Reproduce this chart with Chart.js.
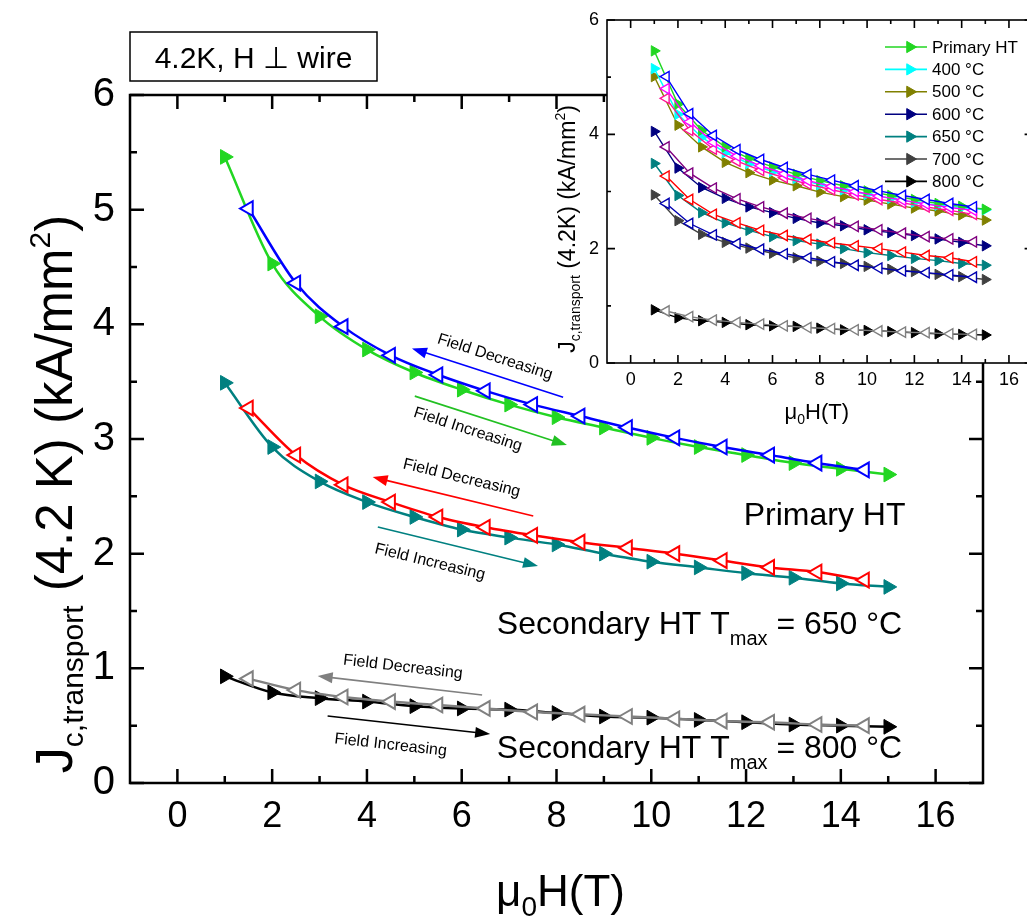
<!DOCTYPE html>
<html><head><meta charset="utf-8">
<script src="https://cdn.jsdelivr.net/npm/chart.js@4.4.1/dist/chart.umd.min.js"></script>
<style>
html,body{margin:0;padding:0;background:#fff;overflow:hidden;width:1027px;height:924px;}
#wrap{position:relative;width:1027px;height:924px;overflow:hidden;}
#main{position:absolute;left:0;top:0;}
#inset{position:absolute;left:520px;top:0;}
</style></head><body>
<div id="wrap">
<canvas id="main" width="1027" height="924"></canvas>
<canvas id="inset" width="520" height="430"></canvas>
</div>
<script>
// ---------------- data ----------------
const fieldUp = [1,2,3,4,5,6,7,8,9,10,11,12,13,14,15];
const fieldDown = [1.5,2.5,3.5,4.5,5.5,6.5,7.5,8.5,9.5,10.5,11.5,12.5,13.5,14.5];

const primaryUp   = [5.46,4.53,4.07,3.78,3.58,3.43,3.30,3.19,3.10,3.01,2.93,2.86,2.79,2.74,2.69];
const primaryDown = [5.01,4.36,3.98,3.73,3.56,3.42,3.30,3.20,3.10,3.01,2.93,2.86,2.79,2.73];
const ht650Up     = [3.49,2.93,2.63,2.45,2.32,2.21,2.14,2.08,2.00,1.93,1.88,1.83,1.79,1.74,1.71];
const ht650Down   = [3.27,2.86,2.60,2.45,2.32,2.23,2.16,2.10,2.05,2.00,1.94,1.88,1.84,1.77];
const ht800Up     = [0.93,0.79,0.74,0.71,0.67,0.65,0.64,0.61,0.58,0.57,0.55,0.53,0.51,0.50,0.49];
const ht800Down   = [0.91,0.81,0.75,0.71,0.68,0.65,0.62,0.60,0.58,0.56,0.54,0.53,0.51,0.50];

const ht400Up     = [5.15,4.35,3.95,3.68,3.49,3.35,3.23,3.12,3.03,2.95,2.88,2.81,2.76,2.72,2.68];
const ht400Down   = [4.80,4.22,3.86,3.62,3.45,3.31,3.19,3.09,3.00,2.92,2.85,2.78,2.72,2.67];
const ht500Up     = [5.01,4.16,3.78,3.51,3.33,3.20,3.10,2.99,2.91,2.85,2.78,2.71,2.66,2.59,2.50];
const ht500Down   = [4.63,4.07,3.74,3.53,3.37,3.24,3.13,3.03,2.94,2.86,2.80,2.73,2.67,2.60];
const ht600Up     = [4.05,3.41,3.07,2.88,2.73,2.63,2.53,2.45,2.40,2.33,2.28,2.23,2.17,2.11,2.05];
const ht600Down   = [3.78,3.32,3.06,2.87,2.73,2.62,2.53,2.46,2.39,2.33,2.27,2.21,2.17,2.12];
const ht700Up     = [2.94,2.49,2.25,2.11,2.01,1.92,1.84,1.78,1.74,1.69,1.64,1.60,1.55,1.51,1.46];
const ht700Down   = [2.79,2.44,2.24,2.09,1.99,1.91,1.84,1.77,1.71,1.66,1.61,1.58,1.54,1.50];

const xTickLabels = [0,2,4,6,8,10,12,14,16];
const xMinorTicks = [1,3,5,7,9,11,13,15];
const yTickLabels = [0,1,2,3,4,5,6];
const yMinorTicks = [0.5,1.5,2.5,3.5,4.5,5.5];
const insetYTickLabels = [0,2,4,6];
const insetYMinorTicks = [1,3,5];

const insetLegendLabels = ['Primary HT','400 \u00B0C','500 \u00B0C','600 \u00B0C','650 \u00B0C','700 \u00B0C','800 \u00B0C'];
const mainCurveLabels = ['Primary HT','Secondary HT T','= 650 \u00B0C','= 800 \u00B0C'];

// ---------------- helpers ----------------
const FONT = '"Liberation Sans", Arial, Helvetica, sans-serif';
const C = {green:'#22d622', blue:'#0000ff', red:'#ff0000', teal:'#008080', gray:'#808080', black:'#000000',
  cyan:'#00ffff', olive:'#808000', navy:'#000080', purple:'#800080', magenta:'#ff00ff', pink:'#ff1493',
  dgray:'#404040', royal:'#0000b0', arrowGreen:'#22c022'};

function pts(xs, ys){ return xs.map((x,i)=>({x:x, y:ys[i]})); }

function ds(label, xs, ys, color, filled, o){
  return {
    label: label, data: pts(xs, ys),
    borderColor: color, backgroundColor: color,
    pointBackgroundColor: filled ? color : '#ffffff',
    pointBorderColor: color,
    pointStyle: 'triangle', pointRotation: filled ? 90 : -90,
    pointRadius: o.r, pointHoverRadius: o.r,
    pointBorderWidth: filled ? 1 : o.pbw,
    borderWidth: o.lw,
    cubicInterpolationMode: o.smooth ? 'monotone' : 'default',
    tension: 0, fill: false, showLine: true, inLegend: o.legend
  };
}

function drawRich(ctx, x, y, parts, align){
  let w = 0;
  parts.forEach(p => { ctx.font = p.s + 'px ' + FONT; w += ctx.measureText(p.t).width; });
  let cx = align === 'center' ? x - w/2 : (align === 'right' ? x - w : x);
  ctx.textAlign = 'left'; ctx.textBaseline = 'alphabetic';
  parts.forEach(p => {
    ctx.font = p.s + 'px ' + FONT;
    ctx.fillText(p.t, cx, y + (p.dy || 0));
    cx += ctx.measureText(p.t).width;
  });
}

function drawFrame(chart, cfg){
  const {ctx, chartArea: a, scales} = chart;
  const xs = scales.x, ys = scales.y;
  ctx.save();
  ctx.strokeStyle = '#000'; ctx.lineWidth = cfg.lw; ctx.lineCap = 'butt';
  ctx.strokeRect(a.left, a.top, a.right - a.left, a.bottom - a.top);
  ctx.beginPath();
  const tickX = (vals, len) => vals.forEach(v => {
    const p = xs.getPixelForValue(v);
    ctx.moveTo(p, a.bottom); ctx.lineTo(p, a.bottom - len);
    ctx.moveTo(p, a.top); ctx.lineTo(p, a.top + len);
  });
  const tickY = (vals, len) => vals.forEach(v => {
    const p = ys.getPixelForValue(v);
    ctx.moveTo(a.left, p); ctx.lineTo(a.left + len, p);
    ctx.moveTo(a.right, p); ctx.lineTo(a.right - len, p);
  });
  tickX(cfg.xMajor, cfg.major); tickX(cfg.xMinor, cfg.minor);
  tickY(cfg.yMajor, cfg.major); tickY(cfg.yMinor, cfg.minor);
  ctx.stroke();
  ctx.restore();
}

function triangle(ctx, x, y, r, rot, fill, stroke, lw){
  ctx.beginPath();
  for (let k = 0; k < 3; k++){
    const ang = rot * Math.PI/180 + k * 2*Math.PI/3;
    const px = x + Math.sin(ang) * r, py = y - Math.cos(ang) * r;
    if (k === 0) ctx.moveTo(px, py); else ctx.lineTo(px, py);
  }
  ctx.closePath();
  ctx.fillStyle = fill; ctx.fill();
  ctx.strokeStyle = stroke; ctx.lineWidth = lw; ctx.stroke();
}

// annotation arrows (data coordinates)
const arrows = [
  {from:[8.14,3.365], to:[4.95,3.79],  color:C.blue,       text:'Field Decreasing', at:[6.70,3.714]},
  {from:[5.01,3.374], to:[8.22,2.947], color:C.arrowGreen, text:'Field Increasing', at:[6.13,3.082]},
  {from:[7.51,2.328], to:[4.12,2.668], color:C.red,        text:'Field Decreasing', at:[6.00,2.659]},
  {from:[4.23,2.232], to:[7.61,1.892], color:C.teal,       text:'Field Increasing', at:[5.33,1.927]},
  {from:[6.43,0.767], to:[2.96,0.933], color:C.gray,       text:'Field Decreasing', at:[4.76,1.011]},
  {from:[3.17,0.584], to:[6.60,0.427], color:C.black,      text:'Field Increasing', at:[4.50,0.331]}
];

const mainAnnot = {
  id: 'mainAnnot',
  afterDraw(chart){
    const {ctx, chartArea: a, scales} = chart;
    const X = v => scales.x.getPixelForValue(v), Y = v => scales.y.getPixelForValue(v);
    drawFrame(chart, {lw:2.5, major:14, minor:7, xMajor:xTickLabels, xMinor:xMinorTicks, yMajor:yTickLabels, yMinor:yMinorTicks});
    ctx.save();
    // arrows
    arrows.forEach(ar => {
      const x1 = X(ar.from[0]), y1 = Y(ar.from[1]), x2 = X(ar.to[0]), y2 = Y(ar.to[1]);
      const ang = Math.atan2(y2 - y1, x2 - x1);
      const hl = 15, hw = 5.5;
      ctx.strokeStyle = ar.color; ctx.fillStyle = ar.color; ctx.lineWidth = 1.6;
      ctx.beginPath(); ctx.moveTo(x1, y1);
      ctx.lineTo(x2 - Math.cos(ang)*hl*0.8, y2 - Math.sin(ang)*hl*0.8); ctx.stroke();
      ctx.beginPath();
      ctx.moveTo(x2, y2);
      ctx.lineTo(x2 - Math.cos(ang)*hl + Math.sin(ang)*hw, y2 - Math.sin(ang)*hl - Math.cos(ang)*hw);
      ctx.lineTo(x2 - Math.cos(ang)*hl - Math.sin(ang)*hw, y2 - Math.sin(ang)*hl + Math.cos(ang)*hw);
      ctx.closePath(); ctx.fill();
      // text
      const lx = Math.min(x1,x2), rx = Math.max(x1,x2);
      const ly = x1 < x2 ? y1 : y2, ry = x1 < x2 ? y2 : y1;
      const tang = Math.atan2(ry - ly, rx - lx);
      ctx.save();
      ctx.translate(X(ar.at[0]), Y(ar.at[1]));
      ctx.rotate(tang);
      ctx.fillStyle = '#000'; ctx.font = '16px ' + FONT;
      ctx.textAlign = 'center'; ctx.textBaseline = 'middle';
      ctx.fillText(ar.text, 0, 0);
      ctx.restore();
    });
    // curve labels
    ctx.fillStyle = '#000';
    drawRich(ctx, X(11.95), Y(2.25), [{t:mainCurveLabels[0], s:32}], 'left');
    drawRich(ctx, X(6.74), Y(1.30), [{t:mainCurveLabels[1], s:32},{t:'max', s:20, dy:11},{t:' ' + mainCurveLabels[2], s:32}], 'left');
    drawRich(ctx, X(6.74), Y(0.218), [{t:mainCurveLabels[1], s:32},{t:'max', s:20, dy:11},{t:' ' + mainCurveLabels[3], s:32}], 'left');
    // condition box
    ctx.strokeStyle = '#000'; ctx.lineWidth = 1.5;
    ctx.strokeRect(a.left, 32, 247, 49);
    drawRich(ctx, a.left + 123.5, 68, [{t:'4.2K, H \u22A5 wire', s:30}], 'center');
    // axis titles
    drawRich(ctx, (a.left + a.right)/2 + 4, 906, [{t:'\u03BC', s:44},{t:'0', s:28, dy:10},{t:'H(T)', s:44}], 'center');
    ctx.save();
    ctx.translate(72, 494);
    ctx.rotate(-Math.PI/2);
    drawRich(ctx, 0, 0, [{t:'J', s:52},{t:'c,transport', s:30, dy:11},{t:' (4.2 K) (kA/mm', s:51},{t:'2', s:30, dy:-22},{t:')', s:51}], 'center');
    ctx.restore();
    ctx.restore();
  }
};

const mainOpts = {r:8.5, pbw:2, lw:2.5, smooth:true};
new Chart(document.getElementById('main'), {
  type: 'line',
  data: { datasets: [
    ds('Primary HT decreasing', fieldDown, primaryDown, C.blue, false, mainOpts),
    ds('Primary HT increasing', fieldUp, primaryUp, C.green, true, mainOpts),
    ds('650 decreasing', fieldDown, ht650Down, C.red, false, mainOpts),
    ds('650 increasing', fieldUp, ht650Up, C.teal, true, mainOpts),
    ds('800 decreasing', fieldDown, ht800Down, C.gray, false, mainOpts),
    ds('800 increasing', fieldUp, ht800Up, C.black, true, mainOpts)
  ]},
  options: {
    responsive: false, animation: false, devicePixelRatio: 1,
    layout: { padding: {left:0, top:95, right:44, bottom:0} },
    plugins: { legend:{display:false}, tooltip:{enabled:false} },
    events: [],
    scales: {
      x: { type:'linear', min:-1, max:17,
        afterBuildTicks: s => { s.ticks = xTickLabels.map(v => ({value:v})); },
        afterFit: s => { s.height = 141; },
        ticks: { font:{family:FONT, size:36}, color:'#000', padding:12, maxRotation:0, autoSkip:false },
        grid: { display:false, drawTicks:false, tickLength:0 }, border:{display:false} },
      y: { type:'linear', min:0, max:6,
        afterBuildTicks: s => { s.ticks = yTickLabels.map(v => ({value:v})); },
        afterFit: s => { s.width = 130; },
        ticks: { font:{family:FONT, size:40}, color:'#000', padding:15, autoSkip:false },
        grid: { display:false, drawTicks:false, tickLength:0 }, border:{display:false} }
    }
  },
  plugins: [mainAnnot]
});

// ---------------- inset ----------------
const insetAnnot = {
  id: 'insetAnnot',
  beforeDraw(chart){
    const {ctx, chartArea: a} = chart;
    ctx.save(); ctx.fillStyle = '#ffffff';
    ctx.fillRect(a.left, a.top, a.right - a.left, a.bottom - a.top);
    ctx.restore();
  },
  afterDraw(chart){
    const {ctx, chartArea: a} = chart;
    drawFrame(chart, {lw:1.6, major:8, minor:4, xMajor:xTickLabels, xMinor:xMinorTicks, yMajor:insetYTickLabels, yMinor:insetYMinorTicks});
    ctx.save();
    // legend
    const legendSets = chart.data.datasets.filter(d => d.inLegend);
    const lx = a.left + 278, ly = a.top + 27, step = 22.4;
    legendSets.forEach((d, i) => {
      const y = ly + i * step;
      ctx.strokeStyle = d.borderColor; ctx.lineWidth = 1.6;
      ctx.beginPath(); ctx.moveTo(lx, y); ctx.lineTo(lx + 42, y); ctx.stroke();
      triangle(ctx, lx + 25, y, 6.5, 90, d.borderColor, d.borderColor, 1);
      ctx.fillStyle = '#000'; ctx.font = '17px ' + FONT;
      ctx.textAlign = 'left'; ctx.textBaseline = 'middle';
      ctx.fillText(d.label, lx + 47, y + 1);
    });
    // axis titles
    ctx.fillStyle = '#000';
    drawRich(ctx, (a.left + a.right)/2 - 3, 419, [{t:'\u03BC', s:22},{t:'0', s:14, dy:5},{t:'H(T)', s:22}], 'center');
    ctx.save();
    ctx.translate(a.left - 32, 229);
    ctx.rotate(-Math.PI/2);
    drawRich(ctx, 0, 0, [{t:'J', s:23},{t:'c,transport', s:14, dy:5},{t:' (4.2K) (kA/mm', s:23},{t:'2', s:14, dy:-10},{t:')', s:23}], 'center');
    ctx.restore();
    ctx.restore();
  }
};

const inO = {r:6, pbw:1.4, lw:1.4, smooth:false};
const inL = Object.assign({}, inO, {legend:true});
new Chart(document.getElementById('inset'), {
  type: 'line',
  data: { datasets: [
    ds('Primary HT decreasing', fieldDown, primaryDown, C.blue, false, inO),
    ds('400 decreasing', fieldDown, ht400Down, C.magenta, false, inO),
    ds('500 decreasing', fieldDown, ht500Down, C.pink, false, inO),
    ds('600 decreasing', fieldDown, ht600Down, C.purple, false, inO),
    ds('650 decreasing', fieldDown, ht650Down, C.red, false, inO),
    ds('700 decreasing', fieldDown, ht700Down, C.royal, false, inO),
    ds('800 decreasing', fieldDown, ht800Down, C.gray, false, inO),
    ds(insetLegendLabels[0], fieldUp, primaryUp, C.green, true, inL),
    ds(insetLegendLabels[1], fieldUp, ht400Up, C.cyan, true, inL),
    ds(insetLegendLabels[2], fieldUp, ht500Up, C.olive, true, inL),
    ds(insetLegendLabels[3], fieldUp, ht600Up, C.navy, true, inL),
    ds(insetLegendLabels[4], fieldUp, ht650Up, C.teal, true, inL),
    ds(insetLegendLabels[5], fieldUp, ht700Up, C.dgray, true, inL),
    ds(insetLegendLabels[6], fieldUp, ht800Up, C.black, true, inL)
  ]},
  options: {
    responsive: false, animation: false, devicePixelRatio: 1,
    layout: { padding: {left:0, top:20, right:7, bottom:0} },
    plugins: { legend:{display:false}, tooltip:{enabled:false} },
    events: [],
    scales: {
      x: { type:'linear', min:-1, max:17,
        afterBuildTicks: s => { s.ticks = xTickLabels.map(v => ({value:v})); },
        afterFit: s => { s.height = 67; },
        ticks: { font:{family:FONT, size:18}, color:'#000', padding:6, maxRotation:0, autoSkip:false },
        grid: { display:false, drawTicks:false, tickLength:0 }, border:{display:false} },
      y: { type:'linear', min:0, max:6,
        afterBuildTicks: s => { s.ticks = insetYTickLabels.map(v => ({value:v})); },
        afterFit: s => { s.width = 87; },
        ticks: { font:{family:FONT, size:18}, color:'#000', padding:8, autoSkip:false },
        grid: { display:false, drawTicks:false, tickLength:0 }, border:{display:false} }
    }
  },
  plugins: [insetAnnot]
});
</script>
</body></html>
